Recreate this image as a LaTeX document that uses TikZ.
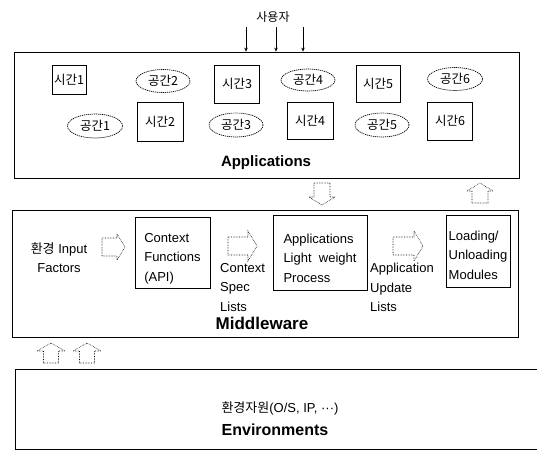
\documentclass[tikz,border=0pt]{standalone}
\usepackage{fontspec}
\setmainfont{Liberation Sans}
\newfontfamily\kr{Noto Sans CJK KR}
\usetikzlibrary{arrows.meta,shapes.geometric}
\newcommand\gapA{\rule{0pt}{21pt}}
\newcommand\gapB{\rule{0pt}{18pt}}
\begin{document}
\begin{tikzpicture}[x=1pt,y=-1pt,
 panel/.style={draw, line width=0.8pt, inner sep=0pt},
 tbox/.style={draw, line width=0.7pt, inner sep=0pt, font=\kr\fontsize{12.5}{14}\selectfont},
 sbox/.style={draw, line width=0.7pt, ellipse, dash pattern=on 1.2pt off 0.8pt, inner sep=0pt, font=\kr\fontsize{12.5}{14}\selectfont},
 mbox/.style={draw, line width=0.8pt, align=left, font=\fontsize{13}{19.5}\selectfont, inner sep=0pt},
 lbl/.style={align=left, font=\fontsize{13}{19.5}\selectfont, inner sep=0pt},
 hol/.style={draw, line width=0.6pt, densely dotted},
 uarrow/.style={-{Stealth[length=4pt,width=3.5pt]}, line width=0.6pt}]
\useasboundingbox (0,0) rectangle (537,450);

% panels
\node[panel, minimum width=505, minimum height=126] (apps) at (266.5,115) {};
\node[panel, minimum width=506, minimum height=127] (mw) at (265,273.5) {};
\draw[line width=0.8pt] (537,369) -- (15,369) -- (15,449) -- (537,449);

% user
\node[font=\kr\fontsize{12}{14}\selectfont] (user) at (273,17) {사용자};
\coordinate (u1) at (246,27);
\coordinate (u2) at (276,27);
\coordinate (u3) at (303,27);
\draw[uarrow] (u1) -- (u1 |- apps.north);
\draw[uarrow] (u2) -- (u2 |- apps.north);
\draw[uarrow] (u3) -- (u3 |- apps.north);

% application items
\node[tbox, minimum width=34, minimum height=29] (t1) at (69,80) {시간1};
\node[sbox, minimum width=54, minimum height=23] (s2) at (163,81) {공간2};
\node[tbox, minimum width=45, minimum height=38] (t3) at (237,84) {시간3};
\node[sbox, minimum width=54, minimum height=22] (s4) at (308,80) {공간4};
\node[tbox, minimum width=44, minimum height=37] (t5) at (378,84) {시간5};
\node[sbox, minimum width=55, minimum height=23] (s6) at (455,79) {공간6};
\node[sbox, minimum width=55, minimum height=24] (s1) at (95,126) {공간1};
\node[tbox, minimum width=46, minimum height=39] (t2) at (160,122) {시간2};
\node[sbox, minimum width=54, minimum height=24] (s3) at (236,125) {공간3};
\node[tbox, minimum width=46, minimum height=37] (t4) at (310,121) {시간4};
\node[sbox, minimum width=54, minimum height=24] (s5) at (382,125) {공간5};
\node[tbox, minimum width=45, minimum height=38] (t6) at (450,121) {시간6};
\node[font=\bfseries\fontsize{15}{18}\selectfont] (appslbl) at (266,163) {Applications};

% hollow arrows between panels
\draw[hol, shift={(322,183)}, rotate=-90] (0,-8) -- (14,-8) -- (14,-13) -- (22,0) -- (14,13) -- (14,8) -- (0,8) -- cycle;
\draw[hol, shift={(480,203)}, rotate=90] (0,-8) -- (12,-8) -- (12,-13) -- (20,0) -- (12,13) -- (12,8) -- (0,8) -- cycle;
\draw[hol, shift={(51,363)}, rotate=90] (0,-7.5) -- (12,-7.5) -- (12,-14) -- (20,0) -- (12,14) -- (12,7.5) -- (0,7.5) -- cycle;
\draw[hol, shift={(87,363)}, rotate=90] (0,-7.5) -- (12,-7.5) -- (12,-14) -- (20,0) -- (12,14) -- (12,7.5) -- (0,7.5) -- cycle;

% middleware content
\node[align=center, inner sep=0pt, font=\fontsize{13}{19}\selectfont] (inp) at (59,258) {{\kr 환경} Input\\Factors};
\draw[hol, shift={(102,247)}] (0,-9) -- (15,-9) -- (15,-13) -- (23,0) -- (15,13) -- (15,9) -- (0,9) -- cycle;
\node[mbox, minimum width=75, minimum height=71] (cf) at (172.5,252.5) {\gapA Context\\Functions\\(API)};
\draw[hol, shift={(228,246)}] (0,-9) -- (20,-9) -- (20,-15) -- (29,0) -- (20,15) -- (20,9) -- (0,9) -- cycle;
\node[lbl, anchor=north west] (csl) at (220,263) {Context\\Spec\\Lists};
\node[mbox, minimum width=94, minimum height=75] (lwp) at (320,252.5) {\gapA Applications\\Light\ \ weight\\Process};
\draw[hol, shift={(393,246)}] (0,-9) -- (21,-9) -- (21,-15) -- (30,0) -- (21,15) -- (21,9) -- (0,9) -- cycle;
\node[lbl, anchor=north west] (aul) at (370,263) {Application\\Update\\Lists};
\node[mbox, minimum width=64, minimum height=72] (lum) at (478,251) {\gapB Loading/\\Unloading\\Modules};
\node[font=\bfseries\fontsize{17}{19}\selectfont] (mwlbl) at (262,323) {Middleware};

% environments
\node[inner sep=0pt, font=\fontsize{13}{15}\selectfont] (envres) at (280,408) {{\kr 환경자원}(O/S, IP, ···)};
\node[inner sep=0pt, font=\bfseries\fontsize{16}{18}\selectfont] (envlbl) at (275,430) {Environments};
\end{tikzpicture}
\end{document}
